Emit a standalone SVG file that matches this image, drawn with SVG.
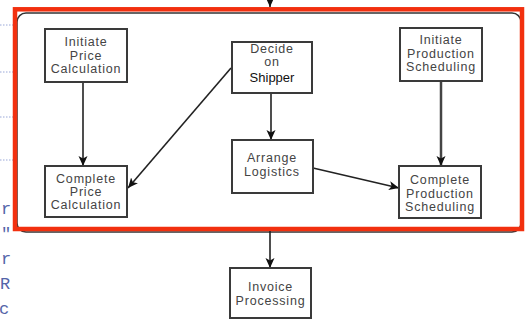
<svg xmlns="http://www.w3.org/2000/svg" width="525" height="320" viewBox="0 0 525 320">
<style>
.box{fill:#fff;stroke:#3a3a3a;stroke-width:2}
.t{font-family:"Liberation Sans",Arial,sans-serif;font-size:12.5px;fill:#444;text-anchor:middle;letter-spacing:0.8px}
.tk{font-family:"Liberation Sans",Arial,sans-serif;font-size:13px;fill:#111;text-anchor:middle}
.code{font-family:"Liberation Mono","Courier New",monospace;font-size:17px;fill:#5464a8}
.dot{stroke:#9aa8d8;stroke-width:1;stroke-dasharray:1.5 1.5}
.c{stroke:#222;stroke-width:1.6;fill:none;marker-end:url(#ah)}
</style>
<defs>
<marker id="ah" markerUnits="userSpaceOnUse" markerWidth="11" markerHeight="10" refX="10" refY="4.5" orient="auto">
<path d="M0,0 L10,4.5 L0,9 L2.5,4.5 z" fill="#111"/>
</marker>
</defs>
<rect width="525" height="320" fill="#fff"/>
<g id="background-code">
<line class="dot" x1="0" y1="25" x2="13" y2="25"/>
<line class="dot" x1="0" y1="72" x2="13" y2="72"/>
<line class="dot" x1="0" y1="117" x2="13" y2="117"/>
<line class="dot" x1="0" y1="160" x2="13" y2="160"/>
<text class="code" x="1" y="214">r</text>
<text class="code" x="1" y="239">"</text>
<text class="code" x="1" y="264">r</text>
<text class="code" x="0" y="289">R</text>
<text class="code" x="-1" y="314">c</text>
</g>
<g id="frame">
<rect x="17" y="13" width="504" height="219" rx="9" fill="#fff" stroke="#333" stroke-width="1.5"/>
<rect x="15" y="9.3" width="507" height="219.7" fill="none" stroke="#f2300f" stroke-width="4.5"/>
</g>
<g id="connectors">
<line class="c" x1="270" y1="-2" x2="270" y2="7"/>
<line class="c" x1="83" y1="82" x2="83" y2="166"/>
<line class="c" x1="231" y1="68" x2="128" y2="188"/>
<line class="c" x1="271" y1="93" x2="271" y2="140"/>
<line class="c" x1="441" y1="81" x2="441" y2="166" style="stroke:#444;stroke-width:2.5"/>
<line class="c" x1="313" y1="168" x2="399" y2="188"/>
<line class="c" x1="270" y1="231" x2="270" y2="268"/>
</g>
<g id="initiate-price">
<rect class="box" x="45" y="29" width="82" height="53"/>
<text class="t" x="86" y="46">Initiate</text>
<text class="t" x="86" y="60">Price</text>
<text class="t" x="86" y="73">Calculation</text>
</g>
<g id="decide-shipper">
<rect class="box" x="232" y="42" width="80" height="51"/>
<text class="t" x="272" y="53">Decide</text>
<text class="t" x="272" y="66">on</text>
<text class="tk" x="272" y="82">Shipper</text>
</g>
<g id="initiate-production">
<rect class="box" x="400" y="28" width="82" height="53"/>
<text class="t" x="441" y="44">Initiate</text>
<text class="t" x="441" y="58">Production</text>
<text class="t" x="441" y="71">Scheduling</text>
</g>
<g id="complete-price">
<rect class="box" x="45" y="166" width="82" height="51"/>
<text class="t" x="86" y="183">Complete</text>
<text class="t" x="86" y="196">Price</text>
<text class="t" x="86" y="209">Calculation</text>
</g>
<g id="arrange-logistics">
<rect class="box" x="232" y="140" width="81" height="53"/>
<text class="t" x="272" y="162">Arrange</text>
<text class="t" x="272" y="176">Logistics</text>
</g>
<g id="complete-production">
<rect class="box" x="399" y="166" width="82" height="52"/>
<text class="t" x="440" y="184">Complete</text>
<text class="t" x="440" y="198">Production</text>
<text class="t" x="440" y="211">Scheduling</text>
</g>
<g id="invoice-processing">
<rect class="box" x="230" y="268" width="81" height="50"/>
<text class="t" x="270.5" y="291">Invoice</text>
<text class="t" x="270.5" y="305">Processing</text>
</g>
</svg>
